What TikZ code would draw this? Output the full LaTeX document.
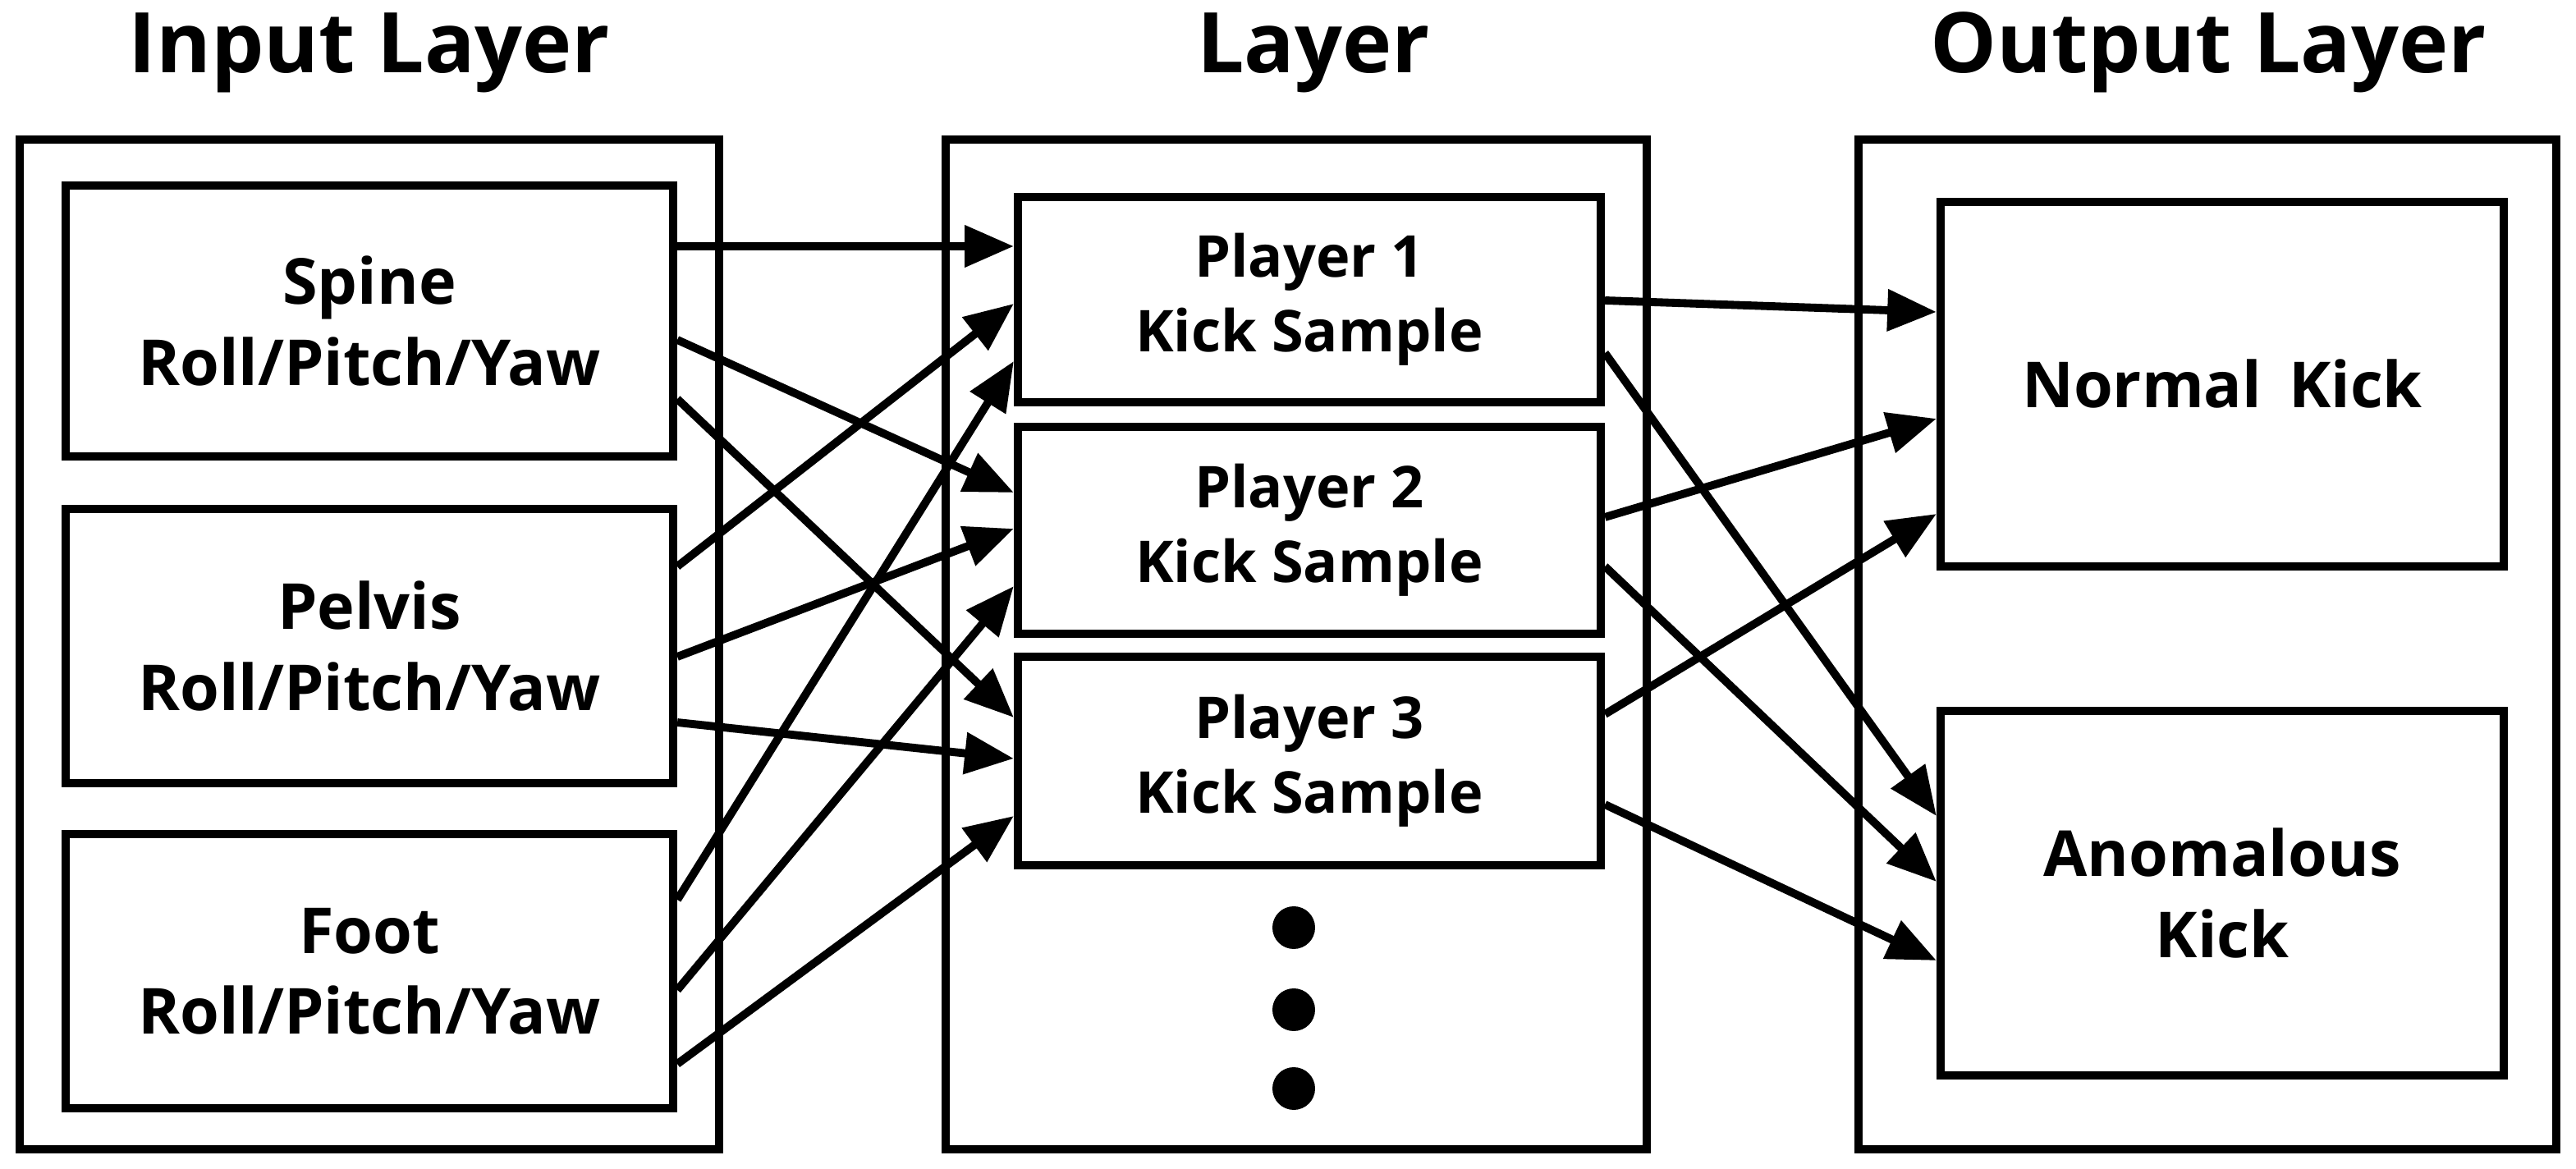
\documentclass[tikz,border=0pt]{standalone}
\usepackage{fontspec}
\setmainfont{Open Sans}
\usetikzlibrary{arrows.meta}
\begin{document}
\begin{tikzpicture}[x=0.02cm,y=-0.02cm,
  box/.style={draw,line width=2.9pt,inner sep=0,align=center,font=\fontsize{22}{28}\selectfont\bfseries},
  ttl/.style={font=\fontsize{29}{34}\selectfont\bfseries},
  arr/.style={line width=2.8pt,-{Triangle[length=17pt,width=14pt]}}]
\useasboundingbox (0,0) rectangle (1569,712);
\node[ttl] (t1) at (225,32) {Input Layer};
\node[ttl] (t2) at (800,32) {Layer};
\node[ttl] (t3) at (1345,32) {Output Layer};
\draw[line width=3.1pt] (12,85) rectangle (438,700);
\draw[line width=3.1pt] (576,85) rectangle (1003,700);
\draw[line width=3.1pt] (1132,85) rectangle (1557,700);
\node[box,minimum width=370*0.02cm,minimum height=165*0.02cm] (sp) at (225,195.5) {Spine\\Roll/Pitch/Yaw};
\node[box,minimum width=370*0.02cm,minimum height=167*0.02cm] (pe) at (225,393.5) {Pelvis\\Roll/Pitch/Yaw};
\node[box,minimum width=370*0.02cm,minimum height=167*0.02cm] (fo) at (225,591.5) {Foot\\Roll/Pitch/Yaw};
\node[box,minimum width=355*0.02cm,minimum height=125*0.02cm,font=\fontsize{20}{26}\selectfont\bfseries] (p1) at (797.5,182.5) {Player 1\\Kick Sample};
\node[box,minimum width=355*0.02cm,minimum height=126*0.02cm,font=\fontsize{20}{26}\selectfont\bfseries] (p2) at (797.5,323) {Player 2\\Kick Sample};
\node[box,minimum width=355*0.02cm,minimum height=127*0.02cm,font=\fontsize{20}{26}\selectfont\bfseries] (p3) at (797.5,463.5) {Player 3\\Kick Sample};
\node[box,minimum width=343*0.02cm,minimum height=222*0.02cm] (nk) at (1353.5,234) {Normal\, Kick};
\node[box,minimum width=343*0.02cm,minimum height=222*0.02cm] (ak) at (1353.5,544) {Anomalous\\Kick};
\foreach \y [count=\i] in {565,615,663} \fill (788,\y) circle (13) coordinate (d\i);
\draw[arr] (sp.east |- 0,150) -- (p1.west |- 0,150);
\draw[arr] (sp.east |- 0,207) -- (p2.west |- 0,300);
\draw[arr] (sp.east |- 0,243) -- (p3.west |- 0,437);
\draw[arr] (pe.east |- 0,345) -- (p1.west |- 0,185);
\draw[arr] (pe.east |- 0,400) -- (p2.west |- 0,322);
\draw[arr] (pe.east |- 0,440) -- (p3.west |- 0,462);
\draw[arr] (fo.east |- 0,548) -- (p1.west |- 0,220);
\draw[arr] (fo.east |- 0,603) -- (p2.west |- 0,357);
\draw[arr] (fo.east |- 0,648) -- (p3.west |- 0,497);
\draw[arr] (p1.east |- 0,183) -- (nk.west |- 0,190);
\draw[arr] (p1.east |- 0,215) -- (ak.west |- 0,497);
\draw[arr] (p2.east |- 0,315) -- (nk.west |- 0,255);
\draw[arr] (p2.east |- 0,345) -- (ak.west |- 0,537);
\draw[arr] (p3.east |- 0,435) -- (nk.west |- 0,313);
\draw[arr] (p3.east |- 0,490) -- (ak.west |- 0,585);
\end{tikzpicture}
\end{document}
